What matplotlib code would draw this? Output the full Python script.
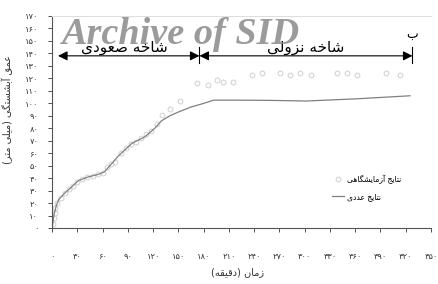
import matplotlib
matplotlib.use("Agg")
import matplotlib.pyplot as plt
from matplotlib.ticker import FuncFormatter

# اعداد خوانده شده از نمودار
lab_x = [1, 2, 3, 4, 6, 10, 15, 20, 25, 30, 36, 42, 48, 54, 60, 65, 70, 75, 82, 88,
         94, 100, 106, 112, 118, 124, 130, 140, 152, 172, 185, 196, 203, 215,
         237, 249, 271, 283, 295, 308, 338, 350, 362, 397, 413]
lab_y = [3, 8, 12, 16, 20, 24, 28, 31, 34, 37, 39, 41, 42, 43, 44, 48.7, 51, 53, 60, 64,
         67, 69, 72, 75, 78, 83, 90.6, 95, 102, 116, 115, 119, 117, 117,
         123, 124, 124, 123, 124, 123, 124, 124, 123, 124, 123]

num_x = [0, 2, 5, 8, 15, 25, 31, 43, 55, 62, 70, 79, 95, 110, 122, 130, 140, 150,
         165, 178, 192, 220, 260, 302, 360, 425]
num_y = [0, 10, 18, 23, 28, 34, 38, 41, 43, 45, 51, 58, 68, 73, 80, 86, 90, 93,
         97, 99.5, 102.5, 102.5, 102.3, 101.8, 103.5, 106]

x_ticks = list(range(0, 451, 30))
y_ticks = list(range(0, 171, 10))

# تبدیل متن فارسی به شکل های نمایشی (matplotlib شکل دهی عربی ندارد)
FORMS = {
    'ا': ('\uFE8D', '\uFE8E'), 'آ': ('\uFE81', '\uFE82'),
    'د': ('\uFEA9', '\uFEAA'), 'ر': ('\uFEAD', '\uFEAE'),
    'ز': ('\uFEAF', '\uFEB0'), 'و': ('\uFEED', '\uFEEE'),
    'ب': ('\uFE8F', '\uFE90', '\uFE91', '\uFE92'),
    'ت': ('\uFE95', '\uFE96', '\uFE97', '\uFE98'),
    'ج': ('\uFE9D', '\uFE9E', '\uFE9F', '\uFEA0'),
    'خ': ('\uFEA5', '\uFEA6', '\uFEA7', '\uFEA8'),
    'س': ('\uFEB1', '\uFEB2', '\uFEB3', '\uFEB4'),
    'ش': ('\uFEB5', '\uFEB6', '\uFEB7', '\uFEB8'),
    'ص': ('\uFEB9', '\uFEBA', '\uFEBB', '\uFEBC'),
    'ع': ('\uFEC9', '\uFECA', '\uFECB', '\uFECC'),
    'ق': ('\uFED5', '\uFED6', '\uFED7', '\uFED8'),
    'ل': ('\uFEDD', '\uFEDE', '\uFEDF', '\uFEE0'),
    'م': ('\uFEE1', '\uFEE2', '\uFEE3', '\uFEE4'),
    'ن': ('\uFEE5', '\uFEE6', '\uFEE7', '\uFEE8'),
    'ه': ('\uFEE9', '\uFEEA', '\uFEEB', '\uFEEC'),
    'ی': ('\uFBFC', '\uFBFD', '\uFBFE', '\uFBFF'),
    'ک': ('\uFB8E', '\uFB8F', '\uFB90', '\uFB91'),
    'گ': ('\uFB92', '\uFB93', '\uFB94', '\uFB95'),
}
MIRROR = {'(': ')', ')': '('}


def fa(text):
    out = []
    for i, ch in enumerate(text):
        if ch not in FORMS:
            out.append(ch)
            continue
        prev = text[i - 1] if i > 0 else ''
        nxt = text[i + 1] if i + 1 < len(text) else ''
        join_prev = prev in FORMS and len(FORMS[prev]) == 4
        join_next = len(FORMS[ch]) == 4 and nxt in FORMS
        f = FORMS[ch]
        if join_prev and join_next:
            out.append(f[3])
        elif join_prev:
            out.append(f[1])
        elif join_next:
            out.append(f[2])
        else:
            out.append(f[0])
    return ''.join(MIRROR.get(c, c) for c in reversed(out))


def fa_num(v, pos=None):
    return str(int(round(v))).translate(str.maketrans('0123456789', '۰۱۲۳۴۵۶۷۸۹'))


plt.rcParams['font.family'] = ['DejaVu Sans']

fig = plt.figure(figsize=(4.38, 2.84), dpi=100)
ax = fig.add_axes([0.119, 0.197, 0.865, 0.747])

ax.plot(lab_x, lab_y, 'o', ms=3.5, mfc='none', mec='#cfcfcf', mew=0.7,
        label=fa('نتایج آزمایشگاهی'))
ax.plot(num_x, num_y, '-', color='#808080', lw=0.9, label=fa('نتایج عددی'))

ax.set_xlim(0, 450)
ax.set_ylim(0, 170)
ax.set_xticks(x_ticks)
ax.set_yticks(y_ticks)
ax.xaxis.set_major_formatter(FuncFormatter(fa_num))
ax.yaxis.set_major_formatter(FuncFormatter(fa_num))
ax.tick_params(axis='x', direction='out', length=3, width=0.6, pad=14,
               labelsize=6, colors='#333333')
ax.tick_params(axis='y', direction='out', length=3, width=0.6, pad=7,
               labelsize=6, colors='#333333')

for s in ['left', 'bottom']:
    ax.spines[s].set_color('#555555')
    ax.spines[s].set_linewidth(0.8)
ax.spines['right'].set_visible(False)
ax.spines['top'].set_color('#dedede')
ax.spines['top'].set_linewidth(0.8)

ax.set_xlabel(fa('زمان (دقیقه)'), fontsize=7, color='#333333')
ax.xaxis.set_label_coords(0.49, -0.185)
ax.set_ylabel(fa('عمق آبشستگی (میلی متر)'), fontsize=7, color='#333333')
ax.yaxis.set_label_coords(-0.103, 0.56)

# پیکان های شاخه صعودی و نزولی
arrow_y = 138
ax.annotate('', xy=(7, arrow_y), xytext=(175, arrow_y),
            arrowprops=dict(arrowstyle='<|-|>', color='black', lw=0.8,
                            mutation_scale=14, shrinkA=0, shrinkB=0))
ax.annotate('', xy=(175, arrow_y), xytext=(428, arrow_y),
            arrowprops=dict(arrowstyle='<|-|>', color='black', lw=0.8,
                            mutation_scale=14, shrinkA=0, shrinkB=0))
for xv in [175, 428]:
    ax.plot([xv, xv], [132, 145], color='black', lw=0.8)
ax.text(86, 139, fa('شاخه صعودی'), fontsize=11, ha='center', va='bottom')
ax.text(301, 139, fa('شاخه نزولی'), fontsize=11, ha='center', va='bottom')
ax.text(427, 155, fa('ب'), fontsize=9, ha='center', va='center')

fig.text(0.142, 0.88, 'Archive of SID', fontsize=27.5, family='Liberation Serif',
         style='italic', weight='bold', color='#8a8a8a', alpha=0.85,
         ha='left', va='center')

ax.legend(loc='center left', bbox_to_anchor=(0.72, 0.19), frameon=False,
          fontsize=5.5, handlelength=1.6, handletextpad=0.4, labelspacing=1.0)

fig.savefig('out.png', dpi=100)
